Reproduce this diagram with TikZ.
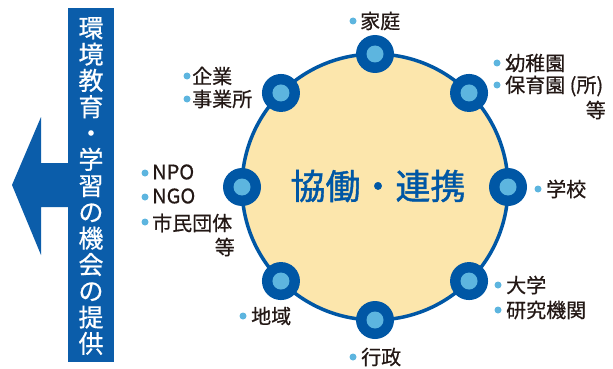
\documentclass[tikz,border=0pt]{standalone}
\usepackage{fontspec}
\setmainfont{Noto Sans CJK JP}
\newfontfamily\lblfont[FakeBold=0.6]{Noto Sans CJK JP}
\newfontfamily\bigfont[FakeBold=1.2]{Noto Sans CJK JP}
\usetikzlibrary{calc}
\definecolor{dblue}{HTML}{0057A5}
\definecolor{barblue}{HTML}{0B5DAA}
\definecolor{lblue}{HTML}{5DB5DF}
\definecolor{cream}{HTML}{FCE6AC}
\definecolor{ink}{HTML}{231815}
\tikzset{
  hub/.style={circle,fill=dblue,minimum size=38pt,inner sep=0pt},
  hubin/.style={circle,fill=lblue,minimum size=17pt,inner sep=0pt},
  dot/.style={circle,fill=lblue,minimum size=7pt,inner sep=0pt},
  lbl/.style={anchor=west,inner sep=0pt,text=ink,font=\lblfont\fontsize{20}{22}\selectfont},
  lble/.style={lbl,anchor=east},
}
\begin{document}
\begin{tikzpicture}[x=1pt,y=-1pt]
\useasboundingbox (0,0) rectangle (613,369);
% left bar and arrow
\fill[barblue] (68,8) rectangle (114,362);
\fill[barblue] (68,163) -- (41,163) -- (41,117) -- (12,185) -- (41,255) -- (41,207) -- (68,207) -- cycle;
\node[text=white,align=center,inner sep=0pt,font=\lblfont\fontsize{25}{26.3}\selectfont] (vt) at (91,186)
 {環\\境\\教\\育\\・\\学\\習\\の\\機\\会\\の\\提\\供};
% big circle
\coordinate (c) at (375,187);
\draw[dblue,line width=3.5pt,fill=cream] (c) circle (133);
\node[text=dblue,inner sep=0pt,font=\bigfont\fontsize{35}{40}\selectfont] (center) at (378,186) {協働・連携};
% hubs
\foreach \n/\a in {n/90,ne/45,e/0,se/-45,s/-90,sw/-135,w/180,nw/135}{
  \node[hub] (h\n) at ($(c)+(\a:133 and -133)$) {};
  \node[hubin] (i\n) at (h\n) {};
}
% labels
\node[dot] (d1) at (353,21) {}; \node[lbl] (t1) at (360,21) {家庭};
\node[dot] (d2) at (187,76) {}; \node[lbl] (t2) at (192,76) {企業};
\node[dot] (d3) at (187,99) {}; \node[lbl] (t3) at (192,99) {事業所};
\node[dot] (d4) at (497,63) {}; \node[lbl] (t4) at (505,63) {幼稚園};
\node[dot] (d5) at (497,85) {}; \node[lbl] (t5) at (505,86) {保育園 (所)};
\node[lble] (t6) at (606,110) {等};
\node[dot] (d7) at (145,173) {}; \node[lbl] (t7) at (152,172) {NPO};
\node[dot] (d8) at (145,197) {}; \node[lbl] (t8) at (152,196) {NGO};
\node[dot] (d9) at (145,222) {}; \node[lbl] (t9) at (152,223) {市民団体};
\node[lble] (t10) at (235,247) {等};
\node[dot] (d11) at (538,189) {}; \node[lbl] (t11) at (546,189) {学校};
\node[dot] (d12) at (498,285) {}; \node[lbl] (t12) at (506,285) {大学};
\node[dot] (d13) at (498,310) {}; \node[lbl] (t13) at (506,310) {研究機関};
\node[dot] (d14) at (243,316) {}; \node[lbl] (t14) at (251,316) {地域};
\node[dot] (d15) at (353,357) {}; \node[lbl] (t15) at (361,357) {行政};
\end{tikzpicture}
\end{document}
